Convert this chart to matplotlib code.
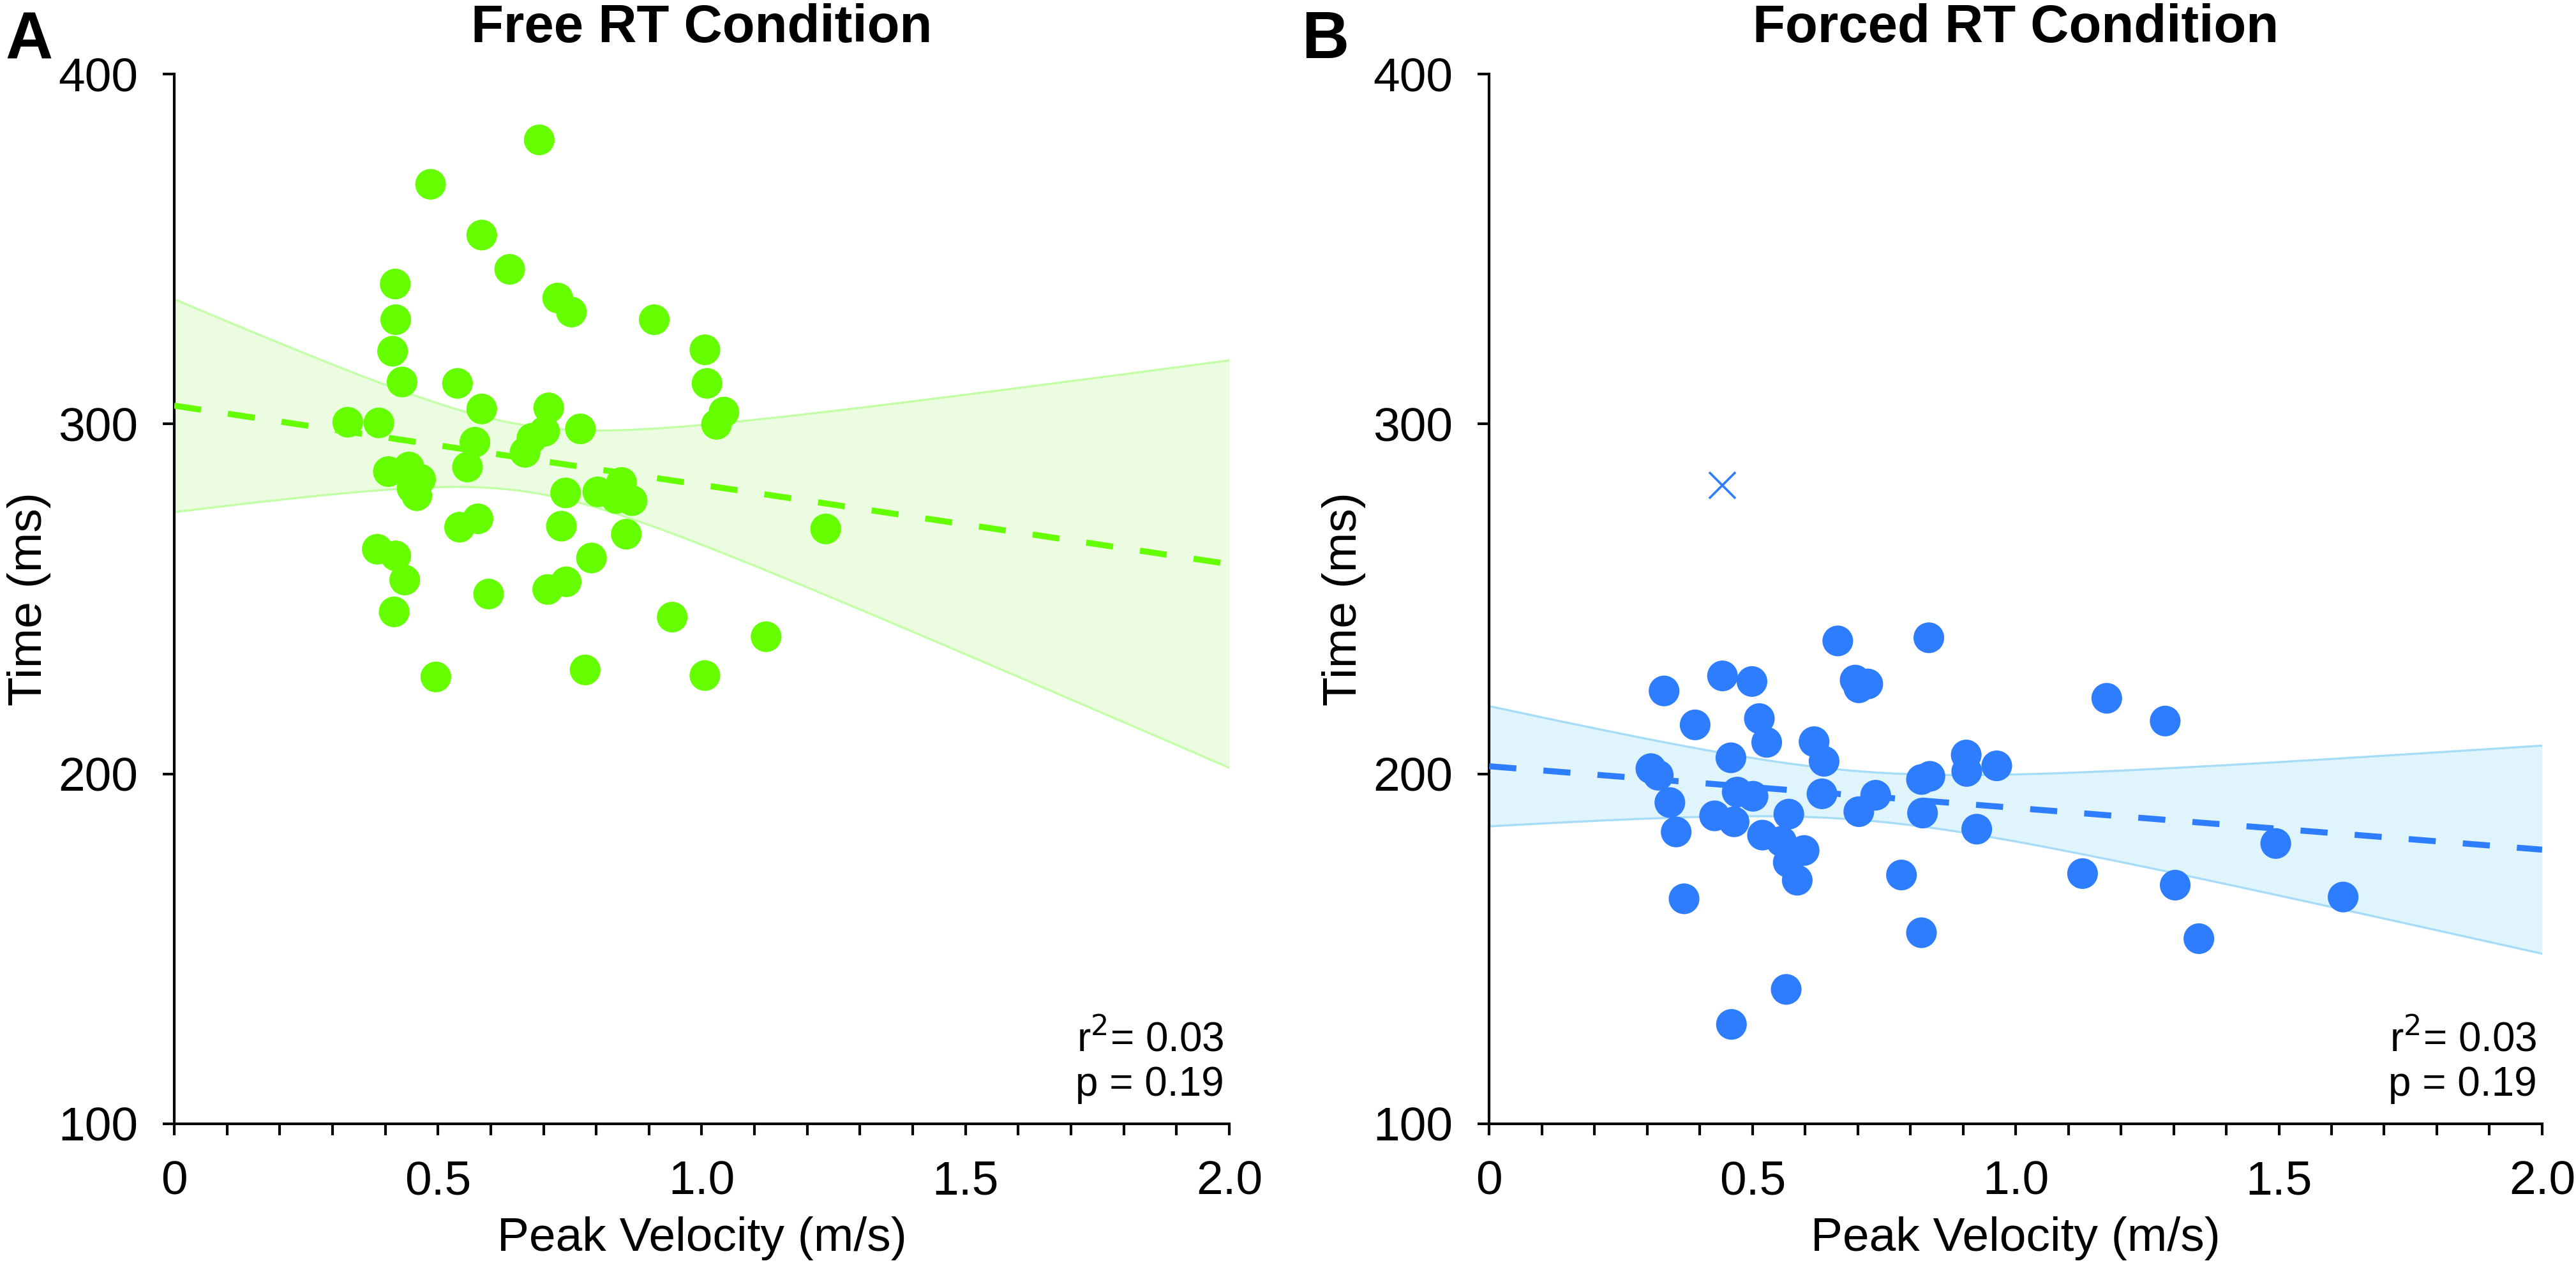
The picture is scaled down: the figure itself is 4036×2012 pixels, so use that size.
import numpy as np
import matplotlib
matplotlib.use("Agg")
import matplotlib.pyplot as plt
from matplotlib.ticker import MultipleLocator

plt.rcParams['font.family'] = ['Liberation Sans', 'DejaVu Sans']

# Free RT condition: peak velocity (m/s) and time (ms)
free_vel = [0.692, 0.486, 0.583, 0.636, 0.727, 0.753, 0.419, 0.420, 0.910, 0.414,
            1.006, 0.432, 0.537, 1.010, 1.042, 1.028, 0.583, 0.710, 0.702, 0.678,
            0.665, 0.770, 0.329, 0.388, 0.570, 0.556, 0.406, 0.445, 0.467, 0.451,
            0.460, 0.742, 0.803, 0.848, 0.838, 0.868, 0.541, 0.576, 0.734, 0.857,
            0.791, 0.385, 0.420, 0.437, 0.596, 0.708, 0.743, 0.417, 0.944, 1.122,
            0.496, 0.779, 1.006, 1.235]
free_rt = [381.2, 368.5, 354.0, 344.2, 336.0, 332.0, 340.0, 329.8, 329.8, 320.8,
           321.2, 312.0, 311.6, 311.6, 303.4, 299.9, 304.3, 304.6, 297.9, 295.9,
           291.9, 298.6, 300.5, 300.3, 294.8, 287.7, 286.4, 287.7, 284.2, 281.6,
           279.5, 280.3, 280.6, 283.3, 278.7, 278.1, 270.5, 272.9, 270.8, 268.5,
           261.7, 264.2, 262.3, 255.4, 251.4, 252.7, 254.9, 246.3, 244.8, 239.2,
           227.7, 229.7, 228.1, 270.0]

# Forced RT condition
forced_vel = [0.662, 0.835, 0.332, 0.443, 0.499, 0.695, 0.719, 0.702, 0.391, 0.513,
              0.527, 0.617, 0.636, 0.459, 0.307, 0.321, 0.343, 0.355, 0.370, 0.471,
              0.501, 0.428, 0.465, 0.519, 0.569, 0.555, 0.598, 0.568, 0.585, 0.632,
              0.734, 0.702, 0.821, 0.837, 0.823, 0.906, 0.907, 0.964, 0.926, 0.783,
              0.821, 0.564, 0.460, 1.173, 1.284, 1.127, 1.303, 1.348, 1.494, 1.622]
forced_rt = [238.0, 238.9, 223.7, 228.0, 226.4, 226.8, 225.7, 224.6, 214.0, 215.8,
             209.0, 209.2, 203.6, 204.6, 201.5, 199.6, 191.8, 183.4, 164.3, 194.8,
             193.6, 188.0, 186.3, 182.5, 188.5, 180.7, 178.1, 174.7, 169.6, 194.3,
             193.9, 189.2, 198.4, 199.3, 188.8, 205.4, 200.7, 202.3, 184.2, 171.1,
             154.6, 138.4, 128.4, 221.6, 215.1, 171.5, 168.2, 152.9, 180.1, 164.8]
# excluded trial
outlier_vel = [0.442]
outlier_rt = [282.5]

titles = ["Free RT Condition", "Forced RT Condition"]
letters = ["A", "B"]
stats_lines = ["r$^{2}$= 0.03", "p = 0.19"]


def fit_band(x, y, xs):
    x = np.asarray(x)
    y = np.asarray(y)
    n = len(x)
    slope, icpt = np.polyfit(x, y, 1)
    resid = y - (icpt + slope * x)
    s = np.sqrt(np.sum(resid ** 2) / (n - 2))
    se = s * np.sqrt(1 / n + (xs - x.mean()) ** 2 / np.sum((x - x.mean()) ** 2))
    fit = icpt + slope * xs
    return fit, fit - 2.01 * se, fit + 2.01 * se


fig = plt.figure(figsize=(20.185, 10.06), dpi=200)
ax_a = fig.add_axes([0.0676, 0.1248, 0.4095, 0.8175])
ax_b = fig.add_axes([0.578, 0.1248, 0.4086, 0.8175])

panels = [
    (ax_a, free_vel, free_rt, '#66ff00', '#ebfce0', '#c2ffa6'),
    (ax_b, forced_vel, forced_rt, '#2e7dff', '#e0f5fb', '#a6dcf7'),
]

xs = np.linspace(0, 2, 200)
for i, (ax, vx, vy, col, fill, edge) in enumerate(panels):
    fit, lo, hi = fit_band(vx, vy, xs)
    ax.fill_between(xs, lo, hi, color=fill, lw=0, zorder=1)
    ax.plot(xs, lo, color=edge, lw=1.2, zorder=2)
    ax.plot(xs, hi, color=edge, lw=1.2, zorder=2)
    ax.scatter(vx, vy, s=300, color=col, edgecolors='none', zorder=3)
    ax.plot(xs, fit, color=col, lw=3.4, dashes=(4.5, 4.5), zorder=4)

    ax.set_xlim(0, 2)
    ax.set_ylim(100, 400)
    ax.set_xticks([0, 0.5, 1.0, 1.5, 2.0])
    ax.set_xticklabels(['0', '0.5', '1.0', '1.5', '2.0'])
    ax.xaxis.set_minor_locator(MultipleLocator(0.1))
    ax.set_yticks([100, 200, 300, 400])
    for side in ['top', 'right']:
        ax.spines[side].set_visible(False)
    for side in ['left', 'bottom']:
        ax.spines[side].set_linewidth(1.5)
    ax.tick_params(which='both', direction='out', length=6.5, width=1.5,
                   labelsize=27, pad=14)
    ax.set_xlabel('Peak Velocity (m/s)', fontsize=27, labelpad=7)
    ax.set_ylabel('Time (ms)', fontsize=27, labelpad=4)
    ax.set_title(titles[i], fontsize=30, fontweight='bold', pad=18)
    ax.text(0.995, 0.080, stats_lines[0], transform=ax.transAxes,
            ha='right', va='center', fontsize=23)
    ax.text(0.995, 0.037, stats_lines[1], transform=ax.transAxes,
            ha='right', va='center', fontsize=23)

ax_b.scatter(outlier_vel, outlier_rt, marker='x', s=220, color='#2e7dff',
             linewidths=1.3, zorder=3)

fig.text(0.002, 0.992, letters[0], fontsize=37, fontweight='bold', va='top')
fig.text(0.505, 0.992, letters[1], fontsize=37, fontweight='bold', va='top')

fig.savefig('out.png', dpi=200)
